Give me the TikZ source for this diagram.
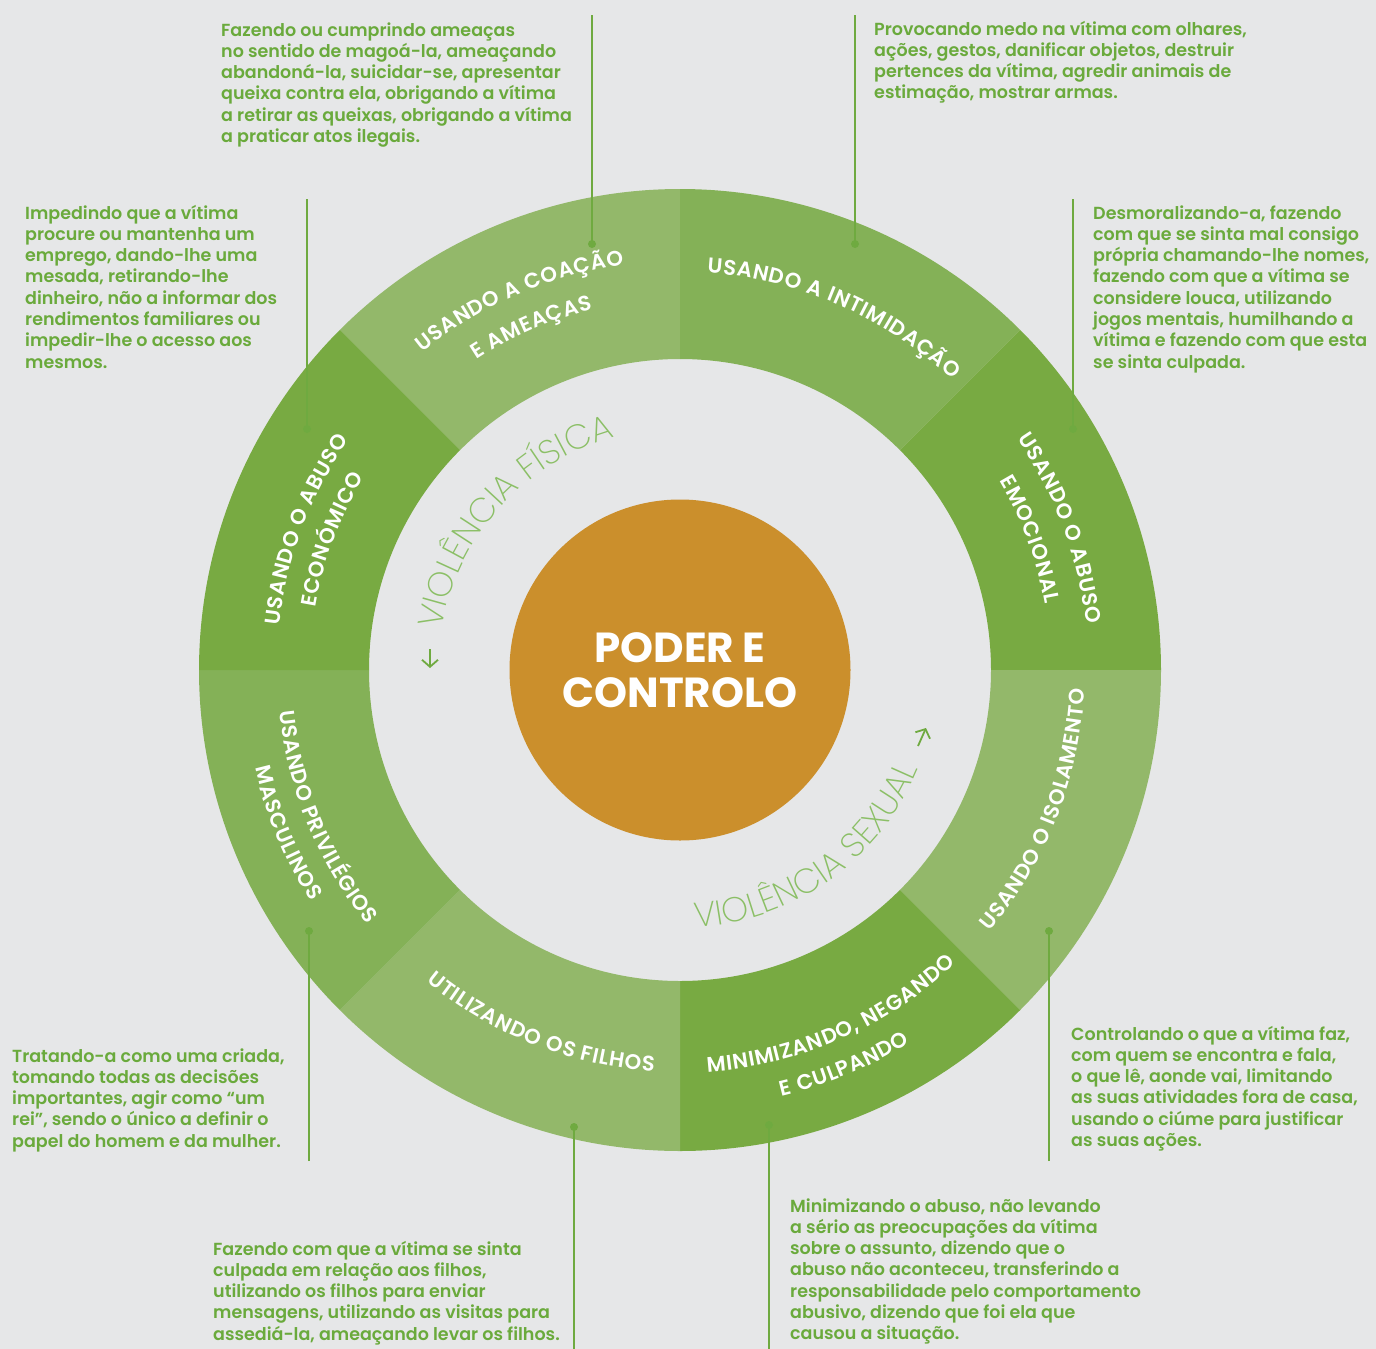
\documentclass[tikz,border=0pt]{standalone}
\usepackage{fontspec}
\newfontfamily\bodyfam{Poppins SemiBold}
\newfontfamily\ringfam{Poppins SemiBold}
\newfontfamily\thinfam{Poppins ExtraLight}
\newfontfamily\corefam{Poppins Bold}
\usetikzlibrary{decorations.text,arrows.meta}
\definecolor{bg}{RGB}{230,231,232}
\definecolor{txtgreen}{RGB}{106,170,60}
\definecolor{linegreen}{RGB}{111,170,64}
\definecolor{segL}{RGB}{147,184,106}
\definecolor{segM}{RGB}{132,177,87}
\definecolor{segD}{RGB}{120,170,66}
\definecolor{corecol}{RGB}{203,143,44}
\definecolor{vgreen}{RGB}{139,191,102}
\newcommand\bodyfnt{\bodyfam\fontsize{17.5}{21.3}\selectfont}
\newcommand\ringfnt{\ringfam\fontsize{21.2}{24}\selectfont\kern0.75pt}
\newcommand\thinfnt{\thinfam\fontsize{34.5}{40}\selectfont}
\newcommand\corefnt{\corefam\fontsize{42}{45}\selectfont}
\newcommand\blk[1]{\begin{tabular}[t]{@{}l@{}}#1\end{tabular}}
\tikzset{
  txt/.style={anchor=base west, inner sep=0pt, font=\bodyfnt, text=txtgreen},
  dotn/.style={circle, fill=linegreen, inner sep=0pt, minimum size=8pt},
  conn/.style={draw=linegreen, line width=2pt},
  ringlab/.style={decorate, decoration={text along path, text align=center, text color=white, text={|\ringfnt|#1}}},
  vlab/.style={decorate, decoration={text along path, text align=center, text color=vgreen, text={|\thinfnt|#1}}},
  varrow/.style={draw=linegreen, line width=1.8pt, -{Straight Barb[length=7pt,width=16pt]}}
}
\begin{document}
\begin{tikzpicture}[x=1pt,y=1pt]
\useasboundingbox (0,0) rectangle (1376,-1349);
\fill[bg] (0,0) rectangle (1376,-1349);
\begin{scope}[shift={(680,-670)}]
  \foreach \a/\b/\c in {90/135/segL,45/90/segM,0/45/segD,-45/0/segL,-90/-45/segD,225/270/segL,180/225/segM,135/180/segD}
    \fill[\c] (\a:481) arc[start angle=\a, end angle=\b, radius=481] -- (\b:311) arc[start angle=\b, end angle=\a, radius=311] -- cycle;
  \node[circle, fill=corecol, minimum size=341pt, inner sep=0pt] (core) at (0,0) {};
  \node[font=\corefnt, text=white, align=center, inner sep=0pt] (coretxt) at (0,0) {PODER E\\CONTROLO};
  % ring labels, upper half (clockwise, tops outward)
  \path[ringlab={USANDO A COAÇÃO}] (145.5:409) arc[start angle=145.5, end angle=81.5, radius=409];
  \path[ringlab={E AMEAÇAS}] (145.5:371) arc[start angle=145.5, end angle=81.5, radius=371];
  \path[ringlab={USANDO A INTIMIDAÇÃO}] (98.5:398) arc[start angle=98.5, end angle=34.5, radius=398];
  \path[ringlab={USANDO O ABUSO}] (52.5:409) arc[start angle=52.5, end angle=-11.5, radius=409];
  \path[ringlab={EMOCIONAL}] (52.5:371) arc[start angle=52.5, end angle=-11.5, radius=371];
  \path[ringlab={USANDO O ABUSO}] (191.5:403) arc[start angle=191.5, end angle=127.5, radius=403];
  \path[ringlab={ECONÓMICO}] (191.5:370) arc[start angle=191.5, end angle=127.5, radius=370];
  % ring labels, lower half (counter-clockwise, tops inward)
  \path[ringlab={USANDO O ISOLAMENTO}] (-53.5:405) arc[start angle=-53.5, end angle=10.5, radius=405];
  \path[ringlab={MINIMIZANDO, NEGANDO}] (-98.5:403) arc[start angle=-98.5, end angle=-34.5, radius=403];
  \path[ringlab={E CULPANDO}] (-99.5:438) arc[start angle=-99.5, end angle=-35.5, radius=438];
  \path[ringlab={UTILIZANDO OS FILHOS}] (-143.5:402) arc[start angle=-143.5, end angle=-79.5, radius=402];
  \path[ringlab={USANDO PRIVILÉGIOS}] (170.5:403) arc[start angle=170.5, end angle=234.5, radius=403];
  \path[ringlab={MASCULINOS}] (170.5:436) arc[start angle=170.5, end angle=234.5, radius=436];
  % inner labels
  \path[vlab={VIOLÊNCIA FÍSICA}] (190:242) arc[start angle=190, end angle=86, radius=242];
  \path[vlab={VIOLÊNCIA SEXUAL}] (-106.5:258) arc[start angle=-106.5, end angle=-2.5, radius=258];
\end{scope}
% direction arrows
\coordinate (a1s) at (430,-649);
\coordinate (a1e) at (430,-668);
\draw[varrow] (a1s) -- (a1e);
\coordinate (a2s) at (918,-746);
\coordinate (a2e) at (926,-728);
\draw[varrow] (a2s) -- (a2e);
% text blocks
\node[txt] (t1) at (221,-36) {\blk{Fazendo ou cumprindo ameaças\\no sentido de magoá-la, ameaçando\\abandoná-la, suicidar-se, apresentar\\queixa contra ela, obrigando a vítima\\a retirar as queixas, obrigando a vítima\\a praticar atos ilegais.}};
\node[txt] (t2) at (874,-35) {\blk{Provocando medo na vítima com olhares,\\ações, gestos, danificar objetos, destruir\\pertences da vítima, agredir animais de\\estimação, mostrar armas.}};
\node[txt] (t3) at (25,-219) {\blk{Impedindo que a vítima\\procure ou mantenha um\\emprego, dando-lhe uma\\mesada, retirando-lhe\\dinheiro, não a informar dos\\rendimentos familiares ou\\impedir-lhe o acesso aos\\mesmos.}};
\node[txt] (t4) at (1093,-219) {\blk{Desmoralizando-a, fazendo\\com que se sinta mal consigo\\própria chamando-lhe nomes,\\fazendo com que a vítima se\\considere louca, utilizando\\jogos mentais, humilhando a\\vítima e fazendo com que esta\\se sinta culpada.}};
\node[txt] (t5) at (12,-1062) {\blk{Tratando-a como uma criada,\\tomando todas as decisões\\importantes, agir como “um\\rei”, sendo o único a definir o\\papel do homem e da mulher.}};
\node[txt] (t6) at (1071,-1040) {\blk{Controlando o que a vítima faz,\\com quem se encontra e fala,\\o que lê, aonde vai, limitando\\as suas atividades fora de casa,\\usando o ciúme para justificar\\as suas ações.}};
\node[txt] (t7) at (213,-1255) {\blk{Fazendo com que a vítima se sinta\\culpada em relação aos filhos,\\utilizando os filhos para enviar\\mensagens, utilizando as visitas para\\assediá-la, ameaçando levar os filhos.}};
\node[txt] (t8) at (790,-1212) {\blk{Minimizando o abuso, não levando\\a sério as preocupações da vítima\\sobre o assunto, dizendo que o\\abuso não aconteceu, transferindo a\\responsabilidade pelo comportamento\\abusivo, dizendo que foi ela que\\causou a situação.}};
% connectors
\coordinate (e1) at (592,-15);   \node[dotn] (d1) at (592,-244) {};
\coordinate (e2) at (855,-15);   \node[dotn] (d2) at (855,-244) {};
\coordinate (e3) at (307,-199);  \node[dotn] (d3) at (307,-429) {};
\coordinate (e4) at (1073,-199); \node[dotn] (d4) at (1073,-429) {};
\coordinate (e5) at (309,-1161); \node[dotn] (d5) at (309,-931) {};
\coordinate (e6) at (1049,-1161);\node[dotn] (d6) at (1049,-931) {};
\coordinate (e7) at (574,-1349); \node[dotn] (d7) at (574,-1127) {};
\coordinate (e8) at (769,-1349); \node[dotn] (d8) at (769,-1125) {};
\foreach \i in {1,...,8} \draw[conn] (e\i) -- (d\i.center);
\end{tikzpicture}
\end{document}
